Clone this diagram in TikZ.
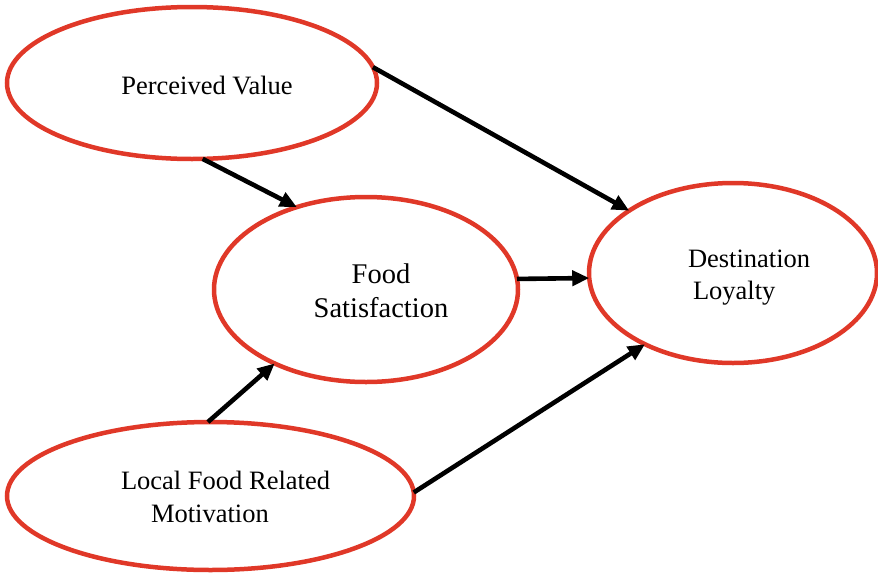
\documentclass[tikz,border=0pt]{standalone}
\usepackage{fontspec}
\setmainfont{Liberation Serif}
\usetikzlibrary{shapes.geometric,arrows.meta}
\definecolor{ered}{RGB}{224,56,40}
\tikzset{
  construct/.style={ellipse, draw=ered, line width=4.5pt, inner sep=0pt, outer sep=0pt},
  lbl/.style={inner sep=0pt, outer sep=0pt, font=\fontsize{26.5}{33}\selectfont},
  path/.style={line width=4.6pt, draw=black, -{Triangle[length=17pt,width=15pt]}}
}
\begin{document}
\begin{tikzpicture}[x=1pt,y=-1pt]
\useasboundingbox (0,0) rectangle (878,573);
\node[construct, minimum width=370pt, minimum height=152pt] (pv) at (192,83) {};
\node[construct, minimum width=304pt, minimum height=185pt] (fs) at (366,289.5) {};
\node[construct, minimum width=288pt, minimum height=180pt] (dl) at (733,273) {};
\node[construct, minimum width=407pt, minimum height=148pt] (lfm) at (210.5,496) {};

\node[lbl, anchor=base] (pvt) at (207,94) {Perceived Value};
\node[lbl, anchor=base, align=center, font=\fontsize{28.5}{34}\selectfont] (fst) at (381,317) {Food\\Satisfaction};
\node[lbl, anchor=base west, align=left, font=\fontsize{26.5}{32}\selectfont] (dlt) at (688,299) {Destination\\\hspace*{5pt}Loyalty};
\node[lbl, anchor=base west, align=left] (lfmt) at (121,522) {Local Food Related\\\hspace*{30pt}Motivation};

\draw[path] (pv.5) -- (dl.149.3);
\draw[path] (pv.-82.5) -- (fs.130.8);
\draw[path] (fs.4) -- (dl.182);
\draw[path] (lfm.92) -- (fs.219.9);
\draw[path] (lfm.1.7) -- (dl.219.5);
\end{tikzpicture}
\end{document}
